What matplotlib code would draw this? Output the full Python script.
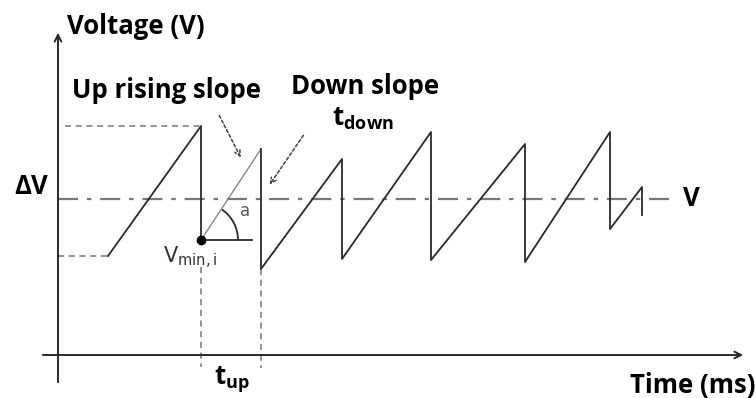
import matplotlib
matplotlib.use('Agg')
import matplotlib.pyplot as plt
from matplotlib.patches import Arc
import numpy as np

# waveform vertices (time, voltage) in arbitrary units, origin at the axes crossing
saw_t = [50, 143, 143]
saw_v = [99, 229, 115]
slope_t = [143, 203]          # "up rising slope" from V_min,i
slope_v = [115, 206]
tail_t = [203, 203, 284, 284, 373, 373, 467, 467, 552, 552, 584, 584]
tail_v = [206, 86, 196, 96, 223, 95, 211, 93, 223, 126, 168, 140]

start_level = 99      # initial flat part
peak_level = 229      # first peak (dashed guide)
v_ref = 156           # reference voltage V
t_min = 143           # time of V_min,i
v_min = 115
t_next = 203          # next drop (end of t_up)
v_next = 86
angle_a = 56          # degrees

plt.rcParams['font.family'] = ['Open Sans', 'DejaVu Sans']

fig = plt.figure(figsize=(7.55, 3.98), dpi=100)
ax = fig.add_axes([0, 0, 1, 1])
ax.set_xlim(-58, 697)
ax.set_ylim(-43, 355)
ax.axis('off')

line_c = '#2a2a2a'
dash_c = '#777777'

# axes with arrows
ax.annotate('', xy=(0, 325), xytext=(0, -30),
            arrowprops=dict(arrowstyle='->', color=line_c, lw=1.4, mutation_scale=12))
ax.annotate('', xy=(688, 0), xytext=(-18, 0),
            arrowprops=dict(arrowstyle='->', color=line_c, lw=1.4, mutation_scale=12))

# dashed guides
ax.plot([0, saw_t[0]], [start_level, start_level], ls=(0, (4, 3)), color=dash_c, lw=1.1)
ax.plot([7, saw_t[1]], [peak_level, peak_level], ls=(0, (4, 3)), color=dash_c, lw=1.1)
ax.plot([0, 615], [v_ref, v_ref], ls=(0, (9, 4, 2, 4)), color=dash_c, lw=1.6)
ax.plot([t_min, t_min], [88, -12], ls=(0, (4, 3)), color=dash_c, lw=1.1)
ax.plot([t_next, t_next], [v_next, -13], ls=(0, (4, 3)), color=dash_c, lw=1.1)

# waveform
ax.plot(saw_t, saw_v, color=line_c, lw=1.3)
ax.plot(slope_t, slope_v, color='#888888', lw=1.0)
ax.plot(tail_t, tail_v, color=line_c, lw=1.3)

# angle construction at V_min,i
ax.plot([t_min, t_min + 51], [v_min, v_min], color=line_c, lw=1.3)
ax.plot([t_min], [v_min], 'o', color='black', ms=6)
ax.add_patch(Arc((t_min, v_min), 74, 74, theta1=0, theta2=angle_a, color=line_c, lw=1.3))
ax.text(187, 144, 'a', fontsize=12, color='#555555', ha='center', va='center',
        family='DejaVu Sans')
ax.text(132, 97, r'V$_{\mathregular{min,i}}$', fontsize=15, color='#333333',
        ha='center', va='center', family='DejaVu Sans')

# arrows pointing to slopes
ax.annotate('', xy=(184, 195), xytext=(160, 242),
            arrowprops=dict(arrowstyle='->', color='#444444', lw=1.1, ls=(0, (2, 1.5))))
ax.annotate('', xy=(210, 168), xytext=(247, 222),
            arrowprops=dict(arrowstyle='->', color='#444444', lw=1.1, ls=(0, (2, 1.5))))

# labels
bold = dict(fontweight='bold', color='black')
fs = 18.5
ax.text(9, 328, 'Voltage (V)', fontsize=fs, ha='left', va='center', **bold)
ax.text(-44, 169, 'ΔV', fontsize=fs, ha='left', va='center', **bold)
ax.text(14, 264, 'Up rising slope', fontsize=fs, ha='left', va='center', **bold)
ax.text(307, 269, 'Down slope', fontsize=fs, ha='center', va='center', **bold)
ax.text(305, 236, r't$_{\mathregular{down}}$', fontsize=fs, ha='center', va='center', **bold)
ax.text(625, v_ref, 'V', fontsize=fs, ha='left', va='center', **bold)
ax.text(174, -25, r't$_{\mathregular{up}}$', fontsize=fs, ha='center', va='center', **bold)
ax.text(697, -30, 'Time (ms)', fontsize=fs, ha='right', va='center', **bold)

plt.savefig('out.png', dpi=100)
